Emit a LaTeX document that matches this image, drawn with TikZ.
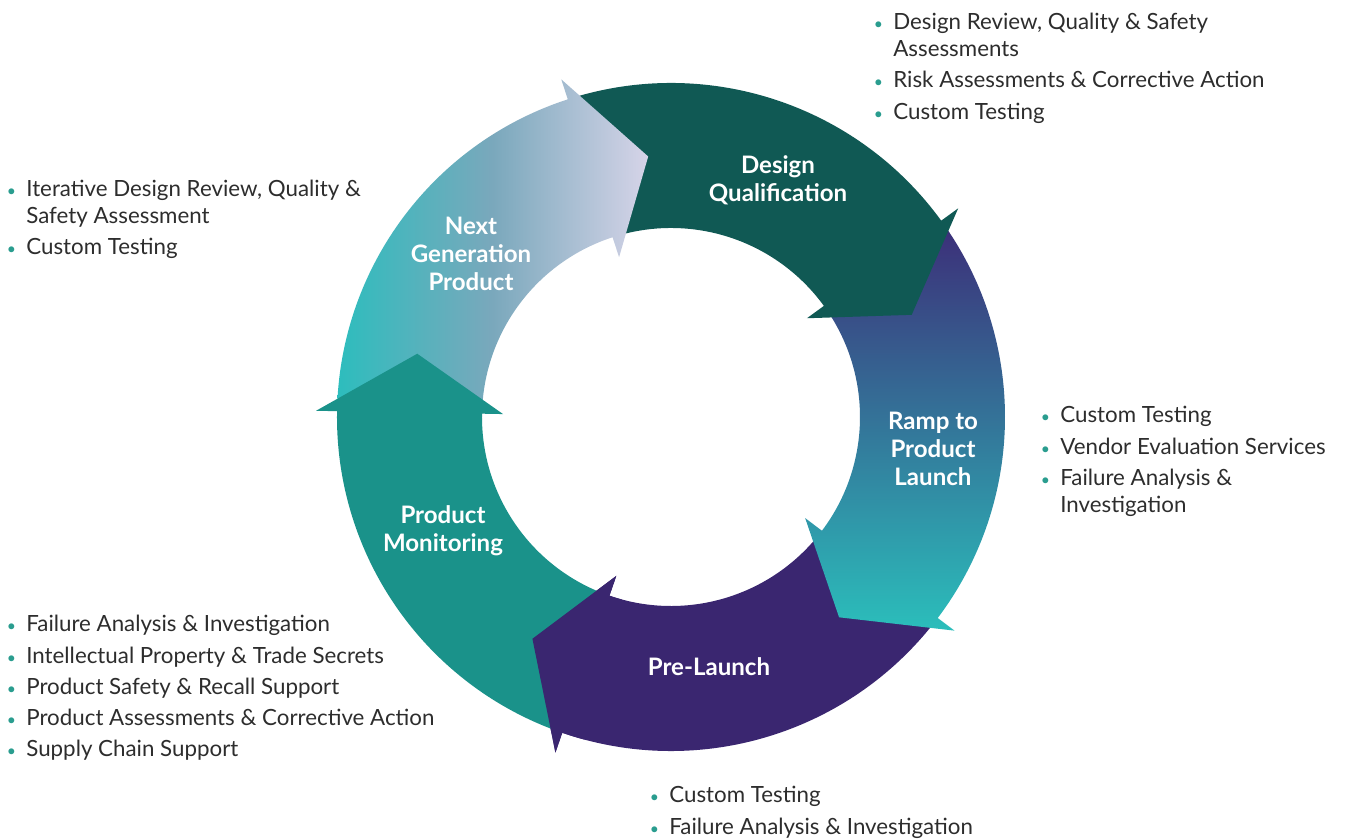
\documentclass[tikz,border=0pt]{standalone}
\usepackage{fontspec}
\setmainfont{Lato}

\definecolor{dqgreen}{RGB}{16,89,84}
\definecolor{plpurple}{RGB}{58,38,112}
\definecolor{pmteal}{RGB}{26,146,138}
\definecolor{rampTop}{RGB}{60,45,120}
\definecolor{rampBot}{RGB}{43,190,187}
\definecolor{ngLeft}{RGB}{45,189,189}
\definecolor{ngMid}{RGB}{122,168,188}
\definecolor{ngRight}{RGB}{214,212,232}
\definecolor{bulc}{RGB}{42,157,143}
\definecolor{txt}{RGB}{45,45,45}

\def\Ro{6.68}
\def\Ri{3.78}
\def\Rbo{7.1}
\def\Rbi{3.36}
\def\Rm{5.23}

\newcommand{\cycarrow}[2]{(#1:\Ro) arc[start angle=#1, end angle=#2, radius=\Ro] -- (#2:\Rbo) -- ({#2-13}:\Rm) -- (#2:\Rbi) -- (#2:\Ri) arc[start angle=#2, end angle=#1, radius=\Ri] -- cycle}
\newcommand{\bul}{\makebox[0pt][c]{\textcolor{bulc}{\fontsize{9}{9}\selectfont\textbullet}}\hspace*{0.3cm}}
\newcommand{\cont}{\hspace*{0.3cm}}

\tikzset{
  stage/.style={text=white, font=\fontsize{13.7}{15.9}\selectfont\bfseries, align=center, inner sep=0pt},
  items/.style={text=txt, font=\fontsize{12.7}{15.3}\selectfont, anchor=base west, inner sep=0pt},
}

\begin{document}
\begin{tikzpicture}
\useasboundingbox (-13.42,-8.44) rectangle (13.48,8.34);

\fill[plpurple] \cycarrow{-37}{-109};
\shade[top color=rampTop, bottom color=rampBot] \cycarrow{36}{-37};
\fill[dqgreen] \cycarrow{108}{36};
\shade[left color=ngLeft, right color=ngRight, middle color=ngMid] \cycarrow{179}{108};
\fill[pmteal] \cycarrow{-109}{-181};
\fill[plpurple] \cycarrow{-105}{-109};

\node[stage] (dq) at (2.14,4.74) {Design\\Qualification};
\node[stage] (ng) at (-4.0,3.26) {Next\\Generation\\Product};
\node[stage] (ramp) at (5.24,-0.64) {Ramp to\\Product\\Launch};
\node[stage] (pm) at (-4.56,-2.28) {Product\\Monitoring};
\node[stage] (pl) at (0.76,-5.0) {Pre-Launch};

\node[items] (dqlist) at (4.14,7.74) {\begin{tabular}[t]{@{}l@{}}
\bul Design Review, Quality \& Safety\\
\cont Assessments\\[2.4pt]
\bul Risk Assessments \& Corrective Action\\[2.4pt]
\bul Custom Testing
\end{tabular}};
\node[items] (nglist) at (-13.2,4.40) {\begin{tabular}[t]{@{}l@{}}
\bul Iterative Design Review, Quality \&\\
\cont Safety Assessment\\[2.4pt]
\bul Custom Testing
\end{tabular}};
\node[items] (ramplist) at (7.48,-0.12) {\begin{tabular}[t]{@{}l@{}}
\bul Custom Testing\\[2.4pt]
\bul Vendor Evaluation Services\\[2.4pt]
\bul Failure Analysis \&\\
\cont Investigation
\end{tabular}};
\node[items] (pmlist) at (-13.2,-4.30) {\begin{tabular}[t]{@{}l@{}}
\bul Failure Analysis \& Investigation\\[2.4pt]
\bul Intellectual Property \& Trade Secrets\\[2.4pt]
\bul Product Safety \& Recall Support\\[2.4pt]
\bul Product Assessments \& Corrective Action\\[2.4pt]
\bul Supply Chain Support
\end{tabular}};
\node[items] (pllist) at (-0.34,-7.72) {\begin{tabular}[t]{@{}l@{}}
\bul Custom Testing\\[2.4pt]
\bul Failure Analysis \& Investigation
\end{tabular}};
\end{tikzpicture}
\end{document}
